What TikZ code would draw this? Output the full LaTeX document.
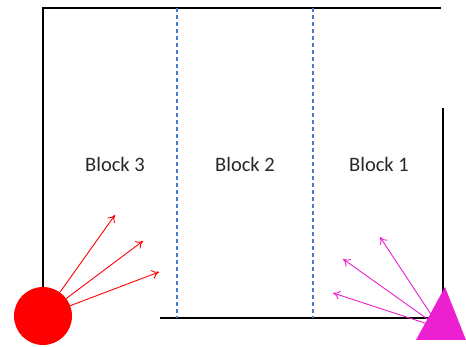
\documentclass[tikz,border=0pt]{standalone}
\usepackage{fontspec}
\setmainfont{Carlito}
\usetikzlibrary{arrows.meta}
\definecolor{wallblue}{RGB}{70,125,205}
\definecolor{srcred}{RGB}{255,0,0}
\definecolor{srcpink}{RGB}{236,32,208}
\definecolor{labelgray}{RGB}{40,40,40}
\tikzset{
  wall/.style={line width=2.4pt, black},
  divider/.style={line width=1.15pt, wallblue, dash pattern=on 4pt off 3pt},
  redray/.style={srcred, line width=0.9pt, -{To[length=7pt,width=9pt]}},
  pinkray/.style={srcpink, line width=0.9pt, -{To[length=7pt,width=9pt]}},
  blocklabel/.style={font=\fontsize{20.5}{24}\selectfont, text=labelgray, inner sep=0pt}
}
\begin{document}
\begin{tikzpicture}[x=1pt,y=-1pt]
\useasboundingbox (0,0) rectangle (466,347);
% outline of the room
\coordinate (tl) at (43,8);
\coordinate (tr) at (441,8);
\coordinate (lb) at (43,292);
\coordinate (bl) at (160,318);
\coordinate (br) at (432,318);
\coordinate (rt) at (443,108);
\coordinate (rb) at (443,300);
\draw[wall] (lb) -- (tl) -- (tr);
\draw[wall] (bl) -- (br);
\draw[wall] (rt) -- (rb);
% block dividers
\coordinate (d1t) at (177,8);
\coordinate (d1b) at (177,318);
\coordinate (d2t) at (313,8);
\coordinate (d2b) at (313,318);
\draw[divider] (d1t) -- (d1b);
\draw[divider] (d2t) -- (d2b);
% labels
\node[blocklabel] (b3) at (115,164) {Block 3};
\node[blocklabel] (b2) at (245,164) {Block 2};
\node[blocklabel] (b1) at (379,164) {Block 1};
% pink source and its rays
\coordinate (ps) at (440,328);
\coordinate (pt1) at (380,237);
\coordinate (pt2) at (343,259);
\coordinate (pt3) at (333,293);
\draw[pinkray] (ps) -- (pt1);
\draw[pinkray] (ps) -- (pt2);
\draw[pinkray] (ps) -- (pt3);
\fill[srcpink] (445,287) -- (466,340) -- (416,340) -- cycle;
% red source and its rays
\node[circle, fill=srcred, minimum size=58pt, inner sep=0pt] (src) at (43,316) {};
\coordinate (rt1) at (115,215);
\coordinate (rt2) at (143,241);
\coordinate (rt3) at (159,272);
\draw[redray] (src) -- (rt1);
\draw[redray] (src) -- (rt2);
\draw[redray] (src) -- (rt3);
\end{tikzpicture}
\end{document}
